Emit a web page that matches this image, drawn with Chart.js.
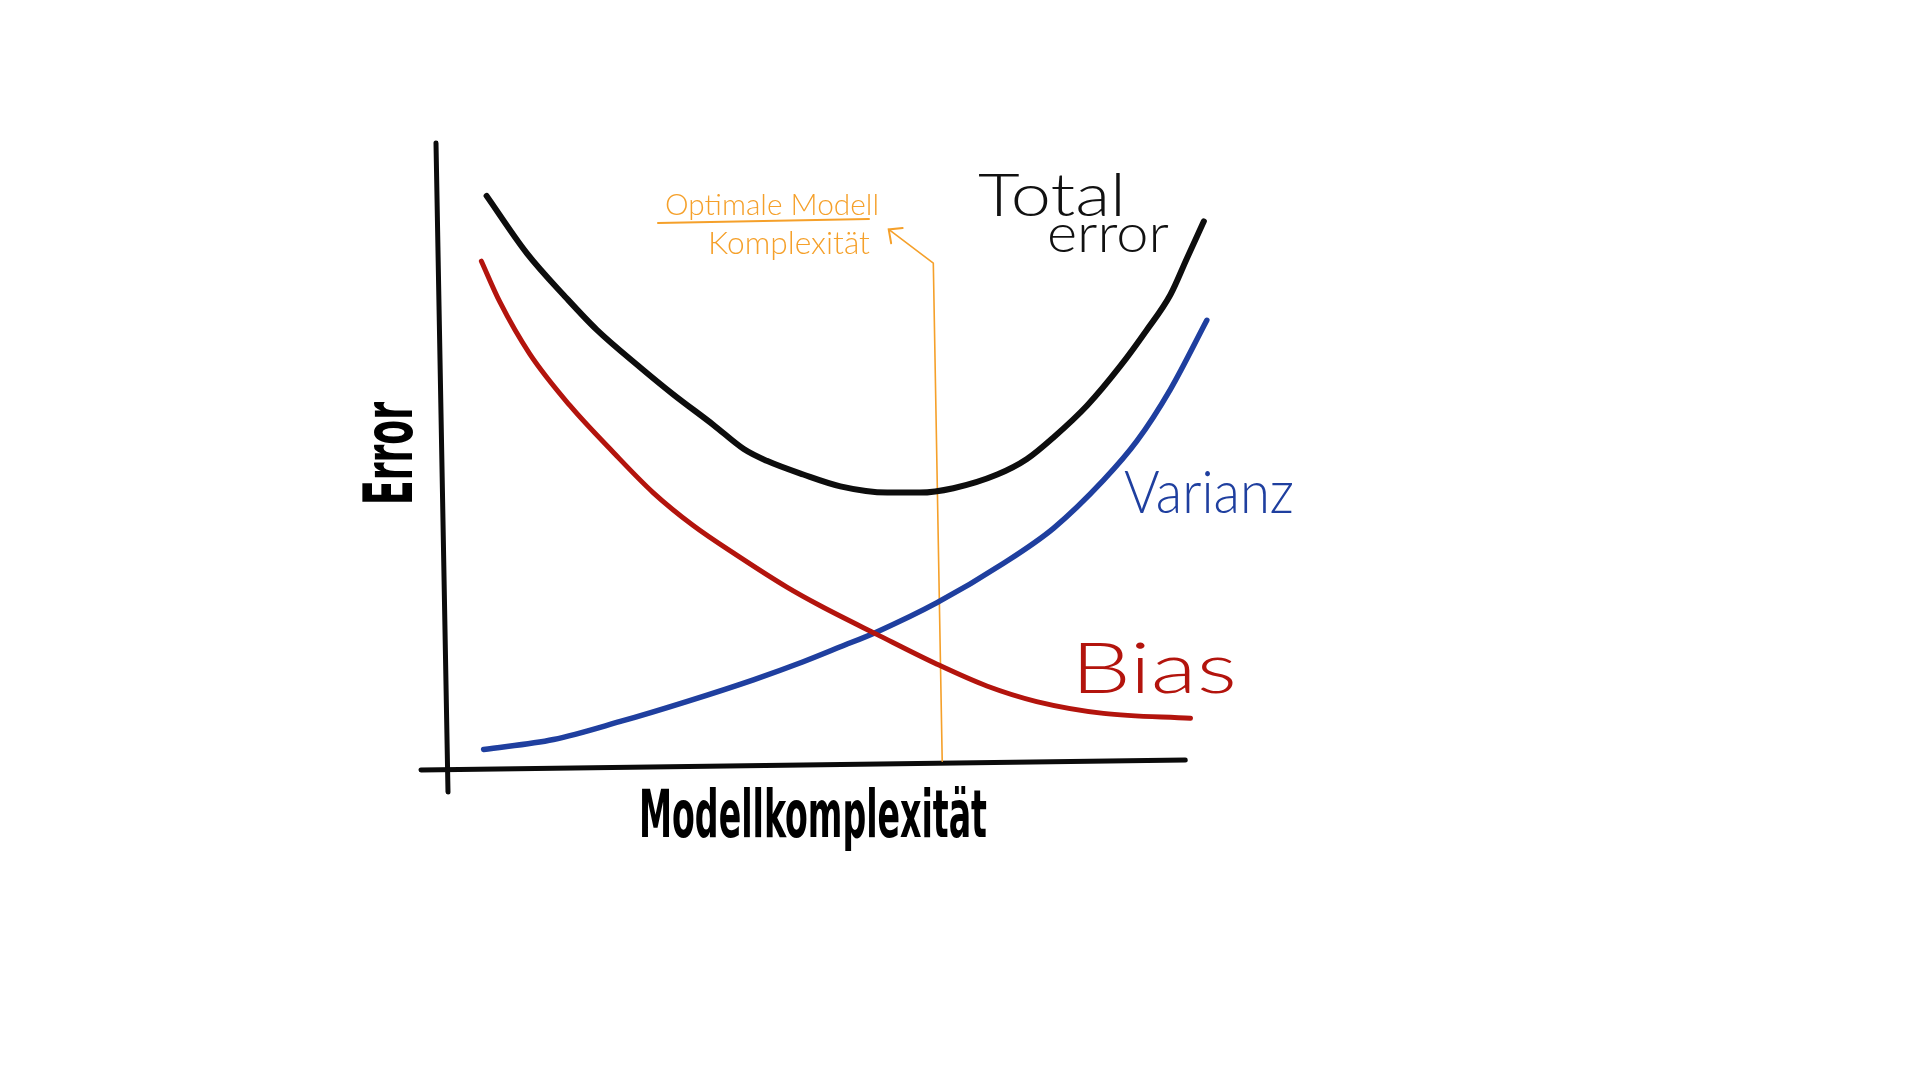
<!DOCTYPE html>
<html>
<head>
<meta charset="utf-8">
<title>Bias-Varianz</title>
<script src="https://cdn.jsdelivr.net/npm/chart.js@4.4.1/dist/chart.umd.min.js"></script>
<style>
  html, body { margin: 0; padding: 0; background: #fff; }
  #biasChart { display: block; }
</style>
</head>
<body>
<canvas id="biasChart" width="1920" height="1080"></canvas>
<script>
const totalX = [6.0, 11.4, 16.8, 20.8, 26.6, 31.1, 36.5, 40.6, 43.7, 48.6, 53.6, 59.9, 64.3, 68.8, 74.7, 78.7, 82.3, 86.8, 91.3, 94.8, 98.0, 100.2, 102.5];
const totalY = [91.5, 82.3, 75.0, 70.0, 64.0, 59.6, 54.7, 50.8, 48.9, 46.7, 44.8, 43.8, 43.8, 44.5, 46.7, 49.2, 52.7, 57.8, 64.2, 69.9, 75.6, 81.4, 87.4];

const biasX = [5.3, 7.8, 11.8, 17.2, 23.1, 28.4, 33.8, 39.7, 46.4, 50.9, 58.5, 66.6, 73.3, 80.0, 89.0, 100.7];
const biasY = [81.0, 74.4, 66.1, 57.8, 50.2, 43.8, 38.5, 33.7, 28.6, 25.6, 21.0, 16.2, 12.7, 10.2, 8.3, 7.5];

const varX = [5.6, 15.0, 24.0, 32.9, 41.9, 48.6, 53.6, 58.5, 66.6, 75.5, 82.3, 89.0, 93.5, 98.0, 102.9];
const varY = [2.5, 4.1, 7.0, 10.2, 13.7, 16.6, 19.0, 21.4, 26.1, 32.4, 38.1, 45.8, 52.1, 60.4, 71.5];

// Markierung optimale Komplexität (Pfeilspitze, Knick, Fußpunkt)
const optX = [60.1, 66.1, 67.3];
const optY = [86.1, 80.7, 0.6];

const xTitle = "Modellkomplexität";
const yTitle = "Error";

function pts(xs, ys) {
  return xs.map((x, i) => ({ x: x, y: ys[i] }));
}

// text horizontal gestaucht/gestreckt auf eine Breite
function fitText(ctx, text, x, y, font, width, color) {
  ctx.save();
  ctx.font = font;
  ctx.fillStyle = color;
  ctx.textBaseline = "alphabetic";
  ctx.textAlign = "left";
  const w = ctx.measureText(text).width;
  ctx.translate(x, y);
  ctx.scale(width / w, 1);
  ctx.fillText(text, 0, 0);
  ctx.restore();
}

const sketchPlugin = {
  id: "sketch",
  beforeDatasetsDraw(chart) {
    const ctx = chart.ctx;
    const a = chart.chartArea;
    const xEnd = chart.scales.x.getPixelForValue(100);
    ctx.save();
    ctx.strokeStyle = "#0b0b0b";
    ctx.lineWidth = 5;
    ctx.lineCap = "round";
    // y-Achse (leicht schief, wie gezeichnet)
    ctx.beginPath();
    ctx.moveTo(a.left - 6, a.top);
    ctx.lineTo(a.left + 6, a.bottom + 27);
    ctx.stroke();
    // x-Achse
    ctx.beginPath();
    ctx.moveTo(a.left - 21, a.bottom + 5);
    ctx.lineTo(xEnd, a.bottom - 5);
    ctx.stroke();
    ctx.restore();
  },
  afterDatasetsDraw(chart) {
    const ctx = chart.ctx;
    const a = chart.chartArea;
    const xs = chart.scales.x;
    const ys = chart.scales.y;
    const hand = '300 60px Lato, "Open Sans", sans-serif';

    // Pfeilspitze
    const tx = xs.getPixelForValue(optX[0]), ty = ys.getPixelForValue(optY[0]);
    const kx = xs.getPixelForValue(optX[1]), ky = ys.getPixelForValue(optY[1]);
    const ang = Math.atan2(ky - ty, kx - tx);
    ctx.save();
    ctx.strokeStyle = "#f5a02a";
    ctx.lineWidth = 2;
    ctx.lineCap = "round";
    ctx.beginPath();
    ctx.moveTo(tx + 14 * Math.cos(ang + 0.75), ty + 14 * Math.sin(ang + 0.75));
    ctx.lineTo(tx, ty);
    ctx.lineTo(tx + 14 * Math.cos(ang - 0.75), ty + 14 * Math.sin(ang - 0.75));
    ctx.stroke();
    // Unterstrich
    ctx.beginPath();
    ctx.moveTo(a.left + 216, a.top + 80);
    ctx.lineTo(a.left + 427, a.top + 76);
    ctx.stroke();
    ctx.restore();

    fitText(ctx, "Optimale Modell", a.left + 223, a.top + 72, '300 30px Lato, "Open Sans", sans-serif', 214, "#f5a02a");
    fitText(ctx, "Komplexität", a.left + 266, a.top + 111, '300 32px Lato, "Open Sans", sans-serif', 162, "#f5a02a");

    fitText(ctx, "Total", a.left + 536, a.top + 73, hand, 148, "#111111");
    fitText(ctx, "error", a.left + 605, a.top + 109, '300 54px Lato, "Open Sans", sans-serif', 122, "#111111");
    fitText(ctx, "Varianz", a.left + 682, a.top + 370, hand, 170, "#1f3f9f");
    fitText(ctx, "Bias", a.left + 629, a.top + 550, '300 70px Lato, "Open Sans", sans-serif', 166, "#b3140d");

    // Achsentitel
    const bold = 'bold 66px "Liberation Sans Narrow", "DejaVu Sans Condensed", "Liberation Sans", sans-serif';
    fitText(ctx, xTitle, a.left + 197, a.bottom + 72, bold, 348, "#000000");
    ctx.save();
    ctx.translate(a.left - 30, a.top + 362);
    ctx.rotate(-Math.PI / 2);
    fitText(ctx, yTitle, 0, 0, 'bold 68px "Liberation Sans Narrow", "DejaVu Sans Condensed", "Liberation Sans", sans-serif', 103, "#000000");
    ctx.restore();
  }
};

const ctx = document.getElementById("biasChart");
new Chart(ctx, {
  type: "line",
  data: {
    datasets: [
      {
        label: "Total error",
        data: pts(totalX, totalY),
        borderColor: "#0d0d0d",
        borderWidth: 6,
        cubicInterpolationMode: "monotone",
      },
      {
        label: "Bias",
        data: pts(biasX, biasY),
        borderColor: "#b3140d",
        borderWidth: 5,
        cubicInterpolationMode: "monotone",
      },
      {
        label: "Varianz",
        data: pts(varX, varY),
        borderColor: "#1f3f9f",
        borderWidth: 5.5,
        cubicInterpolationMode: "monotone",
      },
      {
        label: "Optimale Modellkomplexität",
        data: pts(optX, optY),
        borderColor: "#f5a02a",
        borderWidth: 1.6,
        tension: 0,
      },
    ],
  },
  options: {
    responsive: false,
    devicePixelRatio: 1,
    animation: false,
    layout: {
      // x 0..104 auf 442..1215, y 0..100 auf 765..143
      padding: { left: 442, top: 143, right: 705, bottom: 315 },
    },
    elements: {
      point: { radius: 0, hoverRadius: 0 },
      line: { borderCapStyle: "round", borderJoinStyle: "round", fill: false },
    },
    datasets: {
      line: { clip: false },
    },
    scales: {
      x: { type: "linear", min: 0, max: 104, display: false },
      y: { type: "linear", min: 0, max: 100, display: false },
    },
    plugins: {
      legend: { display: false },
      tooltip: { enabled: false },
    },
  },
  plugins: [sketchPlugin],
});
</script>
</body>
</html>
